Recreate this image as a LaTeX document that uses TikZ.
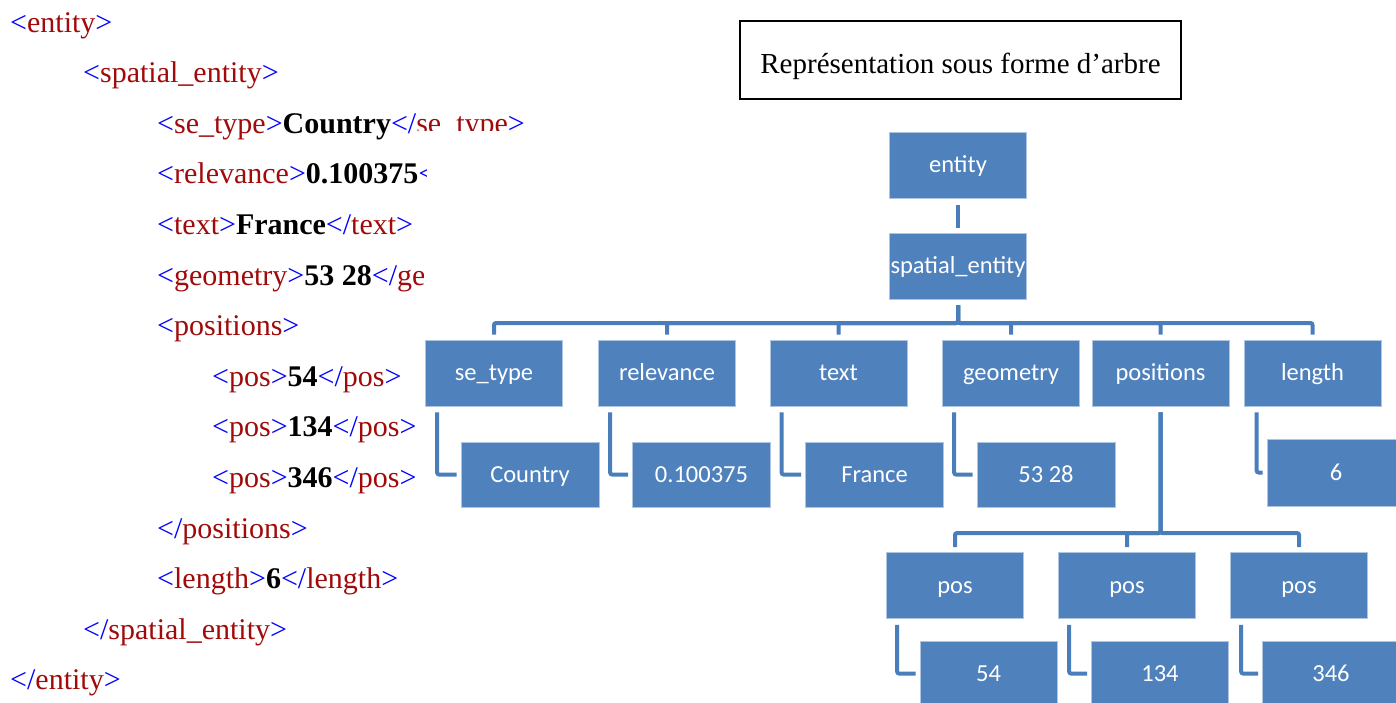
\documentclass[tikz,border=0pt]{standalone}
\usepackage{fontspec}
\setmainfont{Liberation Serif}
\newfontfamily\calfont{Carlito}
\definecolor{tagblue}{RGB}{0,0,255}
\definecolor{tagred}{RGB}{160,10,10}
\definecolor{boxblue}{RGB}{79,129,189}
\definecolor{boxedge}{RGB}{175,198,226}
\definecolor{lineblue}{RGB}{74,126,187}
\newcommand\xop[1]{\textcolor{tagblue}{<}\textcolor{tagred}{#1}\textcolor{tagblue}{>}}
\newcommand\xcl[1]{\textcolor{tagblue}{</}\textcolor{tagred}{#1}\textcolor{tagblue}{>}}
\newcommand\xval[1]{\textbf{#1}}
\tikzset{
  xml/.style={anchor=base west, inner sep=0pt, font=\fontsize{30}{36}\selectfont},
  bluebox/.style={rectangle, fill=boxblue, draw=boxedge, line width=0.8pt,
    minimum width=137pt, minimum height=66pt, inner sep=0pt, text=white,
    text height=18pt, text depth=3pt,
    font=\calfont\fontsize{24.5}{29}\selectfont},
  conn/.style={draw=lineblue, line width=4pt, rounded corners=2pt},
  titlebox/.style={draw=black, line width=1.5pt, minimum width=441pt, minimum height=78pt,
    inner sep=0pt},
  titletext/.style={inner sep=0pt, font=\fontsize{29}{35}\selectfont}
}
\begin{document}
\begin{tikzpicture}[x=1pt,y=-1pt]
\useasboundingbox (0,0) rectangle (1396,702);
\clip (0,0) rectangle (1396,702);

% ---- XML listing ----
\node[xml] (l0) at (10,32) {\xop{entity}};
\node[xml] (l1) at (83,82.6) {\xop{spatial\_entity}};
\begin{scope}
  \clip (150,95) rectangle (416,160) (416,95) rectangle (600,130.5);
  \node[xml] (l2) at (157,133.2) {\xop{se\_type}\xval{Country}\xcl{se\_type}};
\end{scope}
\begin{scope}
  \clip (150,145) rectangle (426,210);
  \node[xml] (l3) at (157,183.8) {\xop{relevance}\xval{0.100375}\textcolor{tagblue}{<}};
\end{scope}
\node[xml] (l4) at (157,234.4) {\xop{text}\xval{France}\xcl{text}};
\begin{scope}
  \clip (150,245) rectangle (423,310);
  \node[xml] (l5) at (157,285) {\xop{geometry}\xval{53 28}\xcl{geometry}};
\end{scope}
\node[xml] (l6) at (157,335.6) {\xop{positions}};
\node[xml] (l7) at (212,386.2) {\xop{pos}\xval{54}\xcl{pos}};
\node[xml] (l8) at (212,436.8) {\xop{pos}\xval{134}\xcl{pos}};
\node[xml] (l9) at (212,487.4) {\xop{pos}\xval{346}\xcl{pos}};
\node[xml] (l10) at (157,538) {\xcl{positions}};
\node[xml] (l11) at (157,588.6) {\xop{length}\xval{6}\xcl{length}};
\node[xml] (l12) at (83,639.2) {\xcl{spatial\_entity}};
\node[xml] (l13) at (10,689.8) {\xcl{entity}};

% ---- title ----
\node[titlebox] (title) at (960.5,60) {};
\node[titletext] (titletext) at ([yshift=-6pt]title.center) {Représentation sous forme d’arbre};

% ---- tree nodes ----
\node[bluebox] (entity) at (958,165) {entity};
\node[bluebox] (spatial) at (958,266) {spatial\_entity};

\node[bluebox] (setype) at (494,373) {se\_type};
\node[bluebox] (relev) at (667,373) {relevance};
\node[bluebox] (ntext) at (838.5,373) {text};
\node[bluebox] (geom) at (1011,373) {geometry};
\node[bluebox] (posn) at (1160.5,373) {positions};
\node[bluebox] (nlength) at (1312.5,373) {length};

\node[bluebox, minimum width=138pt, minimum height=65pt] (country) at (530,474.5) {Country};
\node[bluebox, minimum width=138pt, minimum height=65pt] (relval) at (701.5,474.5) {0.100375};
\node[bluebox, minimum width=138pt, minimum height=65pt] (france) at (874.5,474.5) {France};
\node[bluebox, minimum width=138pt, minimum height=65pt] (geomval) at (1046,474.5) {53 28};
\node[bluebox, minimum width=138pt, minimum height=67pt] (lenval) at (1336,472.5) {6};

\node[bluebox] (p1) at (955,585.5) {pos};
\node[bluebox] (p2) at (1127,585.5) {pos};
\node[bluebox] (p3) at (1299,585.5) {pos};

\node[bluebox, minimum height=65pt] (v1) at (988.5,673.5) {54};
\node[bluebox, minimum height=65pt] (v2) at (1160,673.5) {134};
\node[bluebox, minimum height=65pt] (v3) at (1331,673.5) {346};

% ---- connectors ----
\draw[conn] ([yshift=-7pt]entity.south) -- ([yshift=5pt]spatial.north);

\coordinate (bus1) at (958,323);
\foreach \c in {setype,relev,ntext,geom,posn,nlength}
  \draw[conn] ([yshift=-6pt]spatial.south) -- (bus1) -| ([yshift=5pt]\c.north);

\draw[conn] ([xshift=12pt,yshift=-6pt]setype.south west) |- ([xshift=-4pt]country.west);
\draw[conn] ([xshift=12pt,yshift=-6pt]relev.south west) |- ([xshift=-4pt]relval.west);
\draw[conn] ([xshift=12pt,yshift=-6pt]ntext.south west) |- ([xshift=-4pt]france.west);
\draw[conn] ([xshift=12pt,yshift=-6pt]geom.south west) |- ([xshift=-4pt]geomval.west);
\draw[conn] ([xshift=13pt,yshift=-6pt]nlength.south west) |- ([xshift=-4pt]lenval.west);

\coordinate (bus2) at (1160.5,533);
\foreach \c in {p1,p2,p3}
  \draw[conn] ([yshift=-6pt]posn.south) -- (bus2) -| ([yshift=5pt]\c.north);

\draw[conn] ([xshift=11pt,yshift=-6pt]p1.south west) |- ([xshift=-4pt]v1.west);
\draw[conn] ([xshift=11pt,yshift=-6pt]p2.south west) |- ([xshift=-4pt]v2.west);
\draw[conn] ([xshift=11pt,yshift=-6pt]p3.south west) |- ([xshift=-4pt]v3.west);
\end{tikzpicture}
\end{document}
